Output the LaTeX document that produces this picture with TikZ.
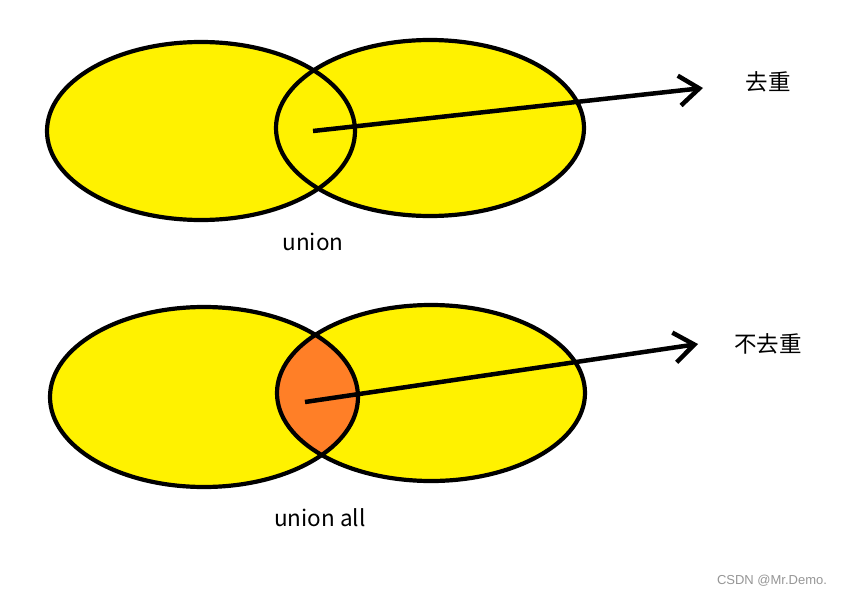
\documentclass[tikz,border=0pt]{standalone}
\usepackage{fontspec}
\setmainfont{Noto Sans CJK SC}
\setsansfont{Liberation Sans}
\usetikzlibrary{arrows.meta}

\definecolor{paintyellow}{RGB}{255,242,0}
\definecolor{paintorange}{RGB}{255,127,39}
\definecolor{marktext}{RGB}{150,150,150}

\tikzset{
  setoutline/.style={line width=4.2pt},
  setarrow/.style={line width=4.5pt, -{Straight Barb[length=20pt,width=30pt]}},
  setlabel/.style={font=\fontsize{22.5}{26}\selectfont},
}

\begin{document}
\begin{tikzpicture}[x=1pt, y=-1pt]
			\useasboundingbox[fill=white] (0,0) rectangle (841,597);

			% Draw the union sets
			\fill[paintyellow] (201,131) ellipse [x radius=154, y radius=89];
			\fill[paintyellow] (430,128) ellipse [x radius=154, y radius=88];
			\draw[setoutline] (201,131) ellipse [x radius=154, y radius=89];
			\draw[setoutline] (430,128) ellipse [x radius=154, y radius=88];

			% Draw the union all sets, overlap in orange
			\fill[paintyellow] (204,397) ellipse [x radius=154, y radius=90];
			\fill[paintyellow] (431,393) ellipse [x radius=154, y radius=88];
			\begin{scope}
				\clip (204,397) ellipse [x radius=154, y radius=90];
				\fill[paintorange] (431,393) ellipse [x radius=154, y radius=88];
			\end{scope}
			\draw[setoutline] (204,397) ellipse [x radius=154, y radius=90];
			\draw[setoutline] (431,393) ellipse [x radius=154, y radius=88];

			% Draw the labels
			\node[setlabel] (unionlabel) at (313,242) {union};
			\node[setlabel] (unionalllabel) at (320,518) {union all};
			\node[setlabel] (dedup) at (768,82) {去重};
			\node[setlabel] (nodedup) at (768,344) {不去重};
			\node[font=\sffamily\fontsize{13}{15}\selectfont, text=marktext] (mark) at (772,581) {CSDN @Mr.Demo.};

			% Draw the arrows
			\coordinate (topstart) at (313,131);
			\coordinate (topend) at (703,88);
			\draw[setarrow] (topstart) -- (topend);

			\coordinate (bottomstart) at (305,402);
			\coordinate (bottomend) at (698,344);
			\draw[setarrow] (bottomstart) -- (bottomend);
		\end{tikzpicture}
\end{document}
